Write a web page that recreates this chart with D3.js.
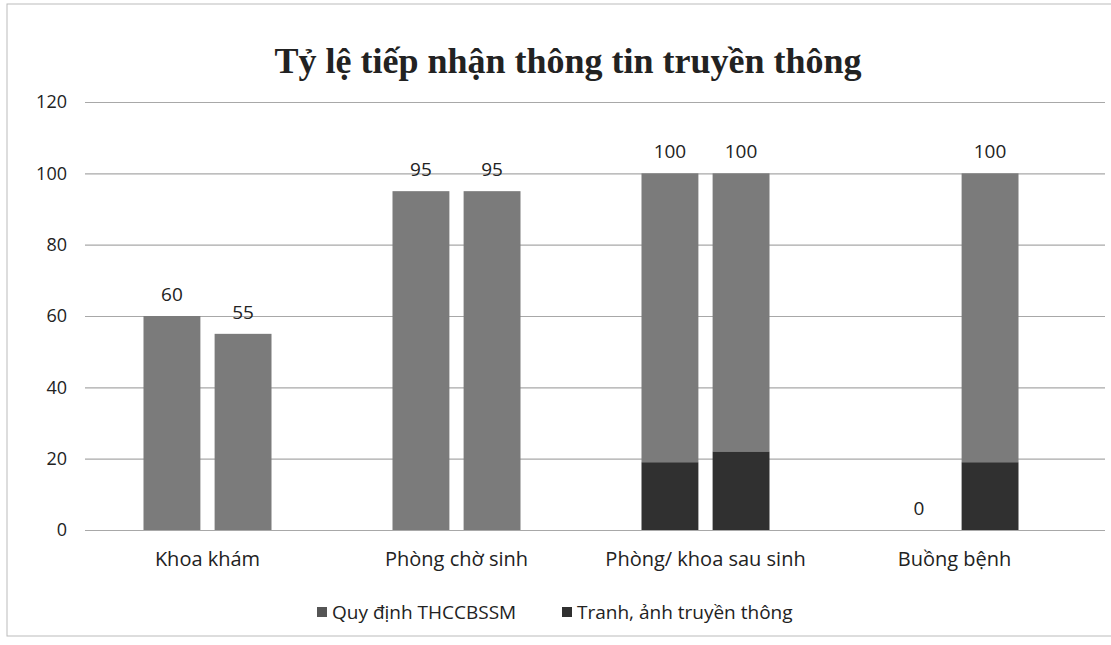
<!DOCTYPE html>
<html><head><meta charset="utf-8">
<script src="https://cdn.jsdelivr.net/npm/d3@7"></script>
<style>body{margin:0;background:#fff}svg{display:block}</style>
</head><body>
<svg id="c" width="1111" height="645"></svg>
<script>
const title = "Tỷ lệ tiếp nhận thông tin truyền thông";
const categories = ["Khoa khám", "Phòng chờ sinh", "Phòng/ khoa sau sinh", "Buồng bệnh"];
const seriesNames = ["Quy định THCCBSSM", "Tranh, ảnh truyền thông"];
const quyDinhTotal = [60, 95, 100, 0];
const tranhAnhTotal = [55, 95, 100, 100];
const quyDinhDark = [0, 0, 19, 0];
const tranhAnhDark = [0, 0, 22, 19];
const yTicks = [0, 20, 40, 60, 80, 100, 120];

const grey = "#7b7b7b", dark = "#303030";
const font = "'Open Sans', 'Noto Sans', sans-serif";
const svg = d3.select("#c");
svg.append("rect").attr("x",7).attr("y",4).attr("width",1110).attr("height",632)
  .attr("fill","#fff").attr("stroke","#bbb").attr("stroke-width",1);

const x0 = d3.scaleBand().domain(categories).range([83,1079]);
const x1 = d3.scaleBand().domain([0,1]).range([0,128]).paddingInner(0.2);
const y = d3.scaleLinear().domain([0,120]).range([530,102]);

svg.append("text").attr("x",568).attr("y",73).attr("text-anchor","middle")
  .attr("font-family","'Liberation Serif','Times New Roman',serif").attr("font-weight","bold")
  .attr("font-size",36).attr("fill","#222").text(title);

// gridlines
const yAxis = d3.axisLeft(y).tickValues(yTicks).tickSize(-(1105-85)).tickPadding(18);
const ga = svg.append("g").attr("transform","translate(85,0)").call(yAxis);
ga.select(".domain").remove();
ga.selectAll(".tick line").attr("stroke","#a8a8a8").attr("stroke-width",1.2);
ga.selectAll(".tick text").attr("font-family",font).attr("font-size",18).attr("fill","#222");

const rows = categories.map((c,i)=>[
  {cat:c, k:0, total:quyDinhTotal[i], dark:quyDinhDark[i]},
  {cat:c, k:1, total:tranhAnhTotal[i], dark:tranhAnhDark[i]}
]).flat();
const bx = d => x0(d.cat) + (x0.bandwidth()-128)/2 + x1(d.k);

const g = svg.append("g");
g.selectAll("rect.g").data(rows.filter(d=>d.total>0)).join("rect")
  .attr("x",bx).attr("width",x1.bandwidth())
  .attr("y",d=>y(d.total)).attr("height",d=>y(d.dark)-y(d.total)).attr("fill",grey);
g.selectAll("rect.d").data(rows.filter(d=>d.dark>0)).join("rect")
  .attr("x",bx).attr("width",x1.bandwidth())
  .attr("y",d=>y(d.dark)).attr("height",d=>y(0)-y(d.dark)).attr("fill",dark);
g.selectAll("text.v").data(rows).join("text")
  .attr("x",d=>bx(d)+x1.bandwidth()/2).attr("y",d=>y(d.total)-15)
  .attr("text-anchor","middle").attr("font-family",font).attr("font-size",19).attr("fill","#222")
  .text(d=>d.total);

// category axis
const xa = d3.axisBottom(x0).tickSize(0).tickPadding(22);
const gx = svg.append("g").attr("transform",`translate(0,${y(0)})`).call(xa);
gx.select(".domain").remove();
gx.selectAll(".tick text").attr("font-family",font).attr("font-size",20).attr("fill","#222");

// legend
const leg = svg.append("g").attr("transform","translate(0,612)");
const legX = [317, 562];
seriesNames.forEach((n,i)=>{
  leg.append("rect").attr("x",legX[i]).attr("y",-5).attr("width",10).attr("height",10).attr("fill",i?dark:"#555");
  leg.append("text").attr("x",legX[i]+15).attr("y",7).attr("font-family",font).attr("font-size",19).attr("fill","#222").text(n);
});
</script>
</body></html>
